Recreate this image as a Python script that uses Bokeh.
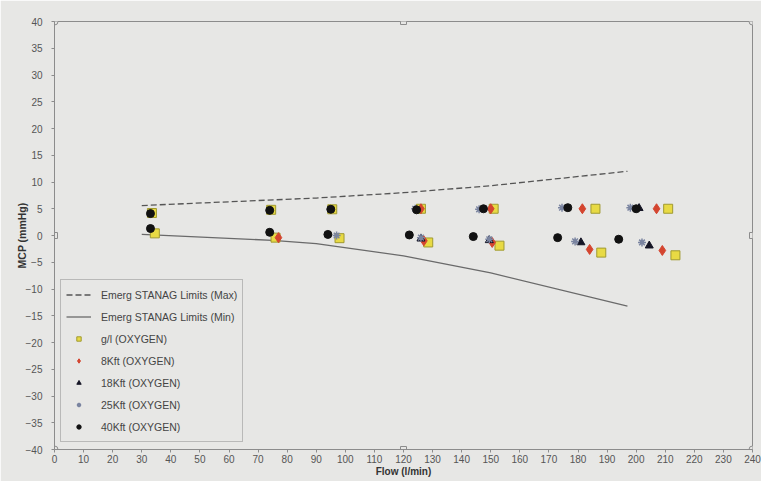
from bokeh.plotting import figure
from bokeh.models import Range1d, SingleIntervalTicker, Legend, LegendItem
from bokeh.embed import file_html
from bokeh.resources import INLINE

# ---- data ----
limit_flow_max = [30, 90, 120, 150, 197]
limit_max = [5.6, 7.0, 8.0, 9.3, 12.0]
limit_flow_min = [30, 75, 90, 120, 150, 197]
limit_min = [0.2, -0.9, -1.5, -3.8, -7.0, -13.2]

gl_flow = [33.5, 34.5, 74.5, 76, 95.5, 98, 126, 128.5, 151, 153, 186, 188, 211, 213.5]
gl_mcp = [4.2, 0.4, 4.8, -0.4, 4.9, -0.5, 5.0, -1.3, 5.0, -1.9, 5.0, -3.2, 5.0, -3.7]

k8_flow = [77, 126, 127, 150, 150.5, 181.5, 184, 207, 209]
k8_mcp = [-0.4, 5.0, -1.0, 5.0, -1.3, 5.0, -2.6, 5.0, -2.8]

k18_flow = [126, 149.5, 181, 201, 204.5]
k18_mcp = [-0.6, -0.9, -1.3, 5.1, -1.9]

k25_flow = [97, 124, 126, 146, 149.5, 174.5, 179, 198, 202]
k25_mcp = [0.0, 5.0, -0.4, 4.9, -0.7, 5.2, -1.1, 5.2, -1.3]

k40_flow = [33, 33, 74, 74, 95, 94, 124.5, 122, 147.5, 144, 176.5, 173, 200, 194]
k40_mcp = [4.1, 1.3, 4.7, 0.6, 4.9, 0.2, 4.8, 0.1, 5.0, -0.2, 5.2, -0.4, 5.0, -0.7]

X_MIN, X_MAX = 0, 240
Y_MIN, Y_MAX = -40, 40

BG = "#e7e7e5"
FONT = "Liberation Sans"

p = figure(width=761, height=481, output_backend="svg", toolbar_location=None,
           x_range=Range1d(X_MIN, X_MAX), y_range=Range1d(Y_MIN, Y_MAX),
           min_border_left=54, min_border_right=9, min_border_top=21, min_border_bottom=32)
p.background_fill_color = BG
p.border_fill_color = BG
p.outline_line_color = "#8c8c8c"
p.outline_line_width = 1
p.xgrid.visible = False
p.ygrid.visible = False

p.xaxis.ticker = SingleIntervalTicker(interval=10)
p.yaxis.ticker = SingleIntervalTicker(interval=5)
for ax in (p.xaxis[0], p.yaxis[0]):
    ax.axis_line_color = "#8c8c8c"
    ax.major_tick_line_color = "#8c8c8c"
    ax.major_tick_in = 0
    ax.major_tick_out = 3
    ax.minor_tick_line_color = None
    ax.major_label_text_font = FONT
    ax.major_label_text_font_size = "10px"
    ax.major_label_text_color = "#555555"
    ax.axis_label_text_font = FONT
    ax.axis_label_text_font_style = "bold"
    ax.axis_label_text_color = "#333333"
p.xaxis.axis_label = "Flow (l/min)"
p.yaxis.axis_label = "MCP (mmHg)"
p.xaxis.axis_label_text_font_size = "10px"
p.yaxis.axis_label_text_font_size = "10.5px"
p.xaxis.major_label_standoff = 1
p.xaxis.axis_label_standoff = 0
p.yaxis.major_label_standoff = 8
p.yaxis.axis_label_standoff = -5

r_max = p.line(limit_flow_max, limit_max, line_color="#555555", line_width=1.3, line_dash="6 3")
r_min = p.line(limit_flow_min, limit_min, line_color="#6a6a6a", line_width=1.3)

# draw order: squares at the back, circles on top
r_gl = p.scatter(gl_flow, gl_mcp, marker="square", size=9, fill_color="#e8da44", line_color="#a09a30", line_width=1)
r_8 = p.scatter(k8_flow, k8_mcp, marker="diamond", size=10, fill_color="#d4452f", line_color="#d4452f")
r_18 = p.scatter(k18_flow, k18_mcp, marker="triangle", size=8, fill_color="#151525", line_color="#151525")
r_25 = p.scatter(k25_flow, k25_mcp, marker="asterisk", size=8, line_color="#7a84a0", line_width=1.5)
r_40 = p.scatter(k40_flow, k40_mcp, marker="circle", size=8, fill_color="#111111", line_color="#111111")

# selection handles of the plot area (corners circles, midpoints squares)
x_mid = (X_MIN + X_MAX) / 2
y_mid = (Y_MIN + Y_MAX) / 2
p.scatter([X_MIN, X_MIN, X_MAX, X_MAX], [Y_MIN, Y_MAX, Y_MIN, Y_MAX], marker="circle", size=7,
          fill_color=BG, line_color="#8c8c8c")
p.scatter([x_mid, x_mid, X_MIN, X_MAX], [Y_MIN, Y_MAX, y_mid, y_mid], marker="square", size=6,
          fill_color=BG, line_color="#8c8c8c")

legend = Legend(items=[
    LegendItem(label="Emerg STANAG Limits (Max)", renderers=[r_max]),
    LegendItem(label="Emerg STANAG Limits (Min)", renderers=[r_min]),
    LegendItem(label="g/l (OXYGEN)", renderers=[r_gl]),
    LegendItem(label="8Kft (OXYGEN)", renderers=[r_8]),
    LegendItem(label="18Kft (OXYGEN)", renderers=[r_18]),
    LegendItem(label="25Kft (OXYGEN)", renderers=[r_25]),
    LegendItem(label="40Kft (OXYGEN)", renderers=[r_40]),
], location=(6, 7))
legend.background_fill_color = BG
legend.background_fill_alpha = 1
legend.border_line_color = "#8c8c8c"
legend.border_line_width = 1
legend.label_text_font = FONT
legend.label_text_font_size = "10.5px"
legend.label_text_color = "#444444"
legend.label_height = 19
legend.glyph_height = 11
legend.glyph_width = 25
legend.spacing = 3
legend.padding = 5
legend.margin = 0
legend.label_standoff = 10
p.add_layout(legend, "center")

open("out.html", "w").write(file_html(p, INLINE))
